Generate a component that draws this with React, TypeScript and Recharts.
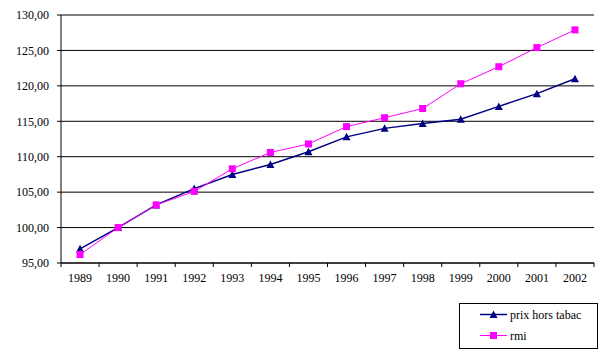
import React from 'react';
import { LineChart, Line, XAxis, YAxis, CartesianGrid, Legend } from 'recharts';

const years = ['1989','1990','1991','1992','1993','1994','1995','1996','1997','1998','1999','2000','2001','2002'];
const prixHorsTabac = [97.0, 100.0, 103.2, 105.5, 107.5, 108.9, 110.7, 112.8, 114.0, 114.7, 115.3, 117.1, 118.9, 121.0];
const rmi = [96.2, 100.0, 103.2, 105.1, 108.3, 110.6, 111.8, 114.25, 115.5, 116.8, 120.3, 122.7, 125.4, 127.9];
const yTicks = [95, 100, 105, 110, 115, 120, 125, 130];

const data = years.map((y, i) => ({ year: y, prix: prixHorsTabac[i], rmi: rmi[i] }));

const W = 604;
const H = 353;
const M = { top: 15, right: 10, left: 0, bottom: 60 };
const Y_W = 61;
const PLOT_W = W - M.left - M.right - Y_W;
const STEP = PLOT_W / years.length;
const FONT = 'Liberation Serif';
const NAVY = '#000080';
const PINK = '#FF00FF';

const Triangle = (props: any) => {
  const { cx, cy, fill } = props;
  if (cx == null || cy == null) return null;
  return <path d={`M${cx - 4},${cy + 3.5} L${cx + 4},${cy + 3.5} L${cx},${cy - 4} Z`} fill={fill} />;
};

const Square = (props: any) => {
  const { cx, cy, fill } = props;
  if (cx == null || cy == null) return null;
  return <rect x={cx - 3.5} y={cy - 3.5} width={7} height={7} fill={fill} />;
};

const XTick = (props: any) => {
  const { x, y, payload, index } = props;
  const isLast = index === years.length - 1;
  return (
    <g>
      <line x1={x - STEP / 2} y1={y} x2={x - STEP / 2} y2={y + 4} stroke="#000" />
      {isLast && <line x1={x + STEP / 2} y1={y} x2={x + STEP / 2} y2={y + 4} stroke="#000" />}
      <text x={x} y={y + 19} textAnchor="middle" style={{ fontFamily: FONT, fontSize: 12 }} fill="#000">
        {payload.value}
      </text>
    </g>
  );
};

const LegendContent = (props: any) => {
  const payload = props.payload || [];
  return (
    <div style={{ width: 137, height: 44, border: '1px solid #000', background: '#fff', boxSizing: 'content-box' }}>
      <svg width={137} height={44} style={{ display: 'block' }}>
        {payload.map((p: any, i: number) => {
          const cy = 10.5 + i * 21;
          return (
            <g key={i}>
              <line x1={20} y1={cy} x2={47} y2={cy} stroke={p.color} strokeWidth={p.dataKey === 'prix' ? 1.5 : 1} />
              {p.dataKey === 'prix' ? (
                <Triangle cx={33.5} cy={cy} fill={p.color} />
              ) : (
                <Square cx={33.5} cy={cy} fill={p.color} />
              )}
              <text x={50} y={cy + 4} style={{ fontFamily: FONT, fontSize: 12 }} fill="#000">{p.value}</text>
            </g>
          );
        })}
      </svg>
    </div>
  );
};

export default function App() {
  return (
    <div style={{ position: 'absolute', left: 0, top: 0, width: W, height: H, background: '#fff' }}>
      <LineChart width={W} height={H} data={data} margin={M}>
        <CartesianGrid vertical={false} stroke="#000" strokeWidth={1} />
        <XAxis
          dataKey="year"
          height={30}
          axisLine={{ stroke: '#000' }}
          tickLine={false}
          tickSize={0}
          tickMargin={0}
          tick={<XTick />}
          interval={0}
          padding={{ left: STEP / 2, right: STEP / 2 }}
        />
        <YAxis
          width={Y_W}
          domain={[95, 130]}
          ticks={yTicks}
          interval={0}
          axisLine={{ stroke: '#000' }}
          tickLine={{ stroke: '#000' }}
          tickSize={4}
          tickMargin={8}
          tick={{ style: { fontFamily: FONT, fontSize: 12 }, fill: '#000' }}
          tickFormatter={(v: number) => v.toFixed(2).replace('.', ',')}
        />
        <Legend
          layout="horizontal"
          verticalAlign="middle"
          align="center"
          wrapperStyle={{ left: 459, top: 303, width: 139, height: 46 }}
          content={<LegendContent />}
        />
        <Line
          dataKey="prix"
          name="prix hors tabac"
          stroke={NAVY}
          strokeWidth={1.5}
          dot={<Triangle fill={NAVY} />}
          activeDot={false}
          isAnimationActive={false}
        />
        <Line
          dataKey="rmi"
          name="rmi"
          stroke={PINK}
          strokeWidth={1}
          dot={<Square fill={PINK} />}
          activeDot={false}
          isAnimationActive={false}
        />
      </LineChart>
    </div>
  );
}
